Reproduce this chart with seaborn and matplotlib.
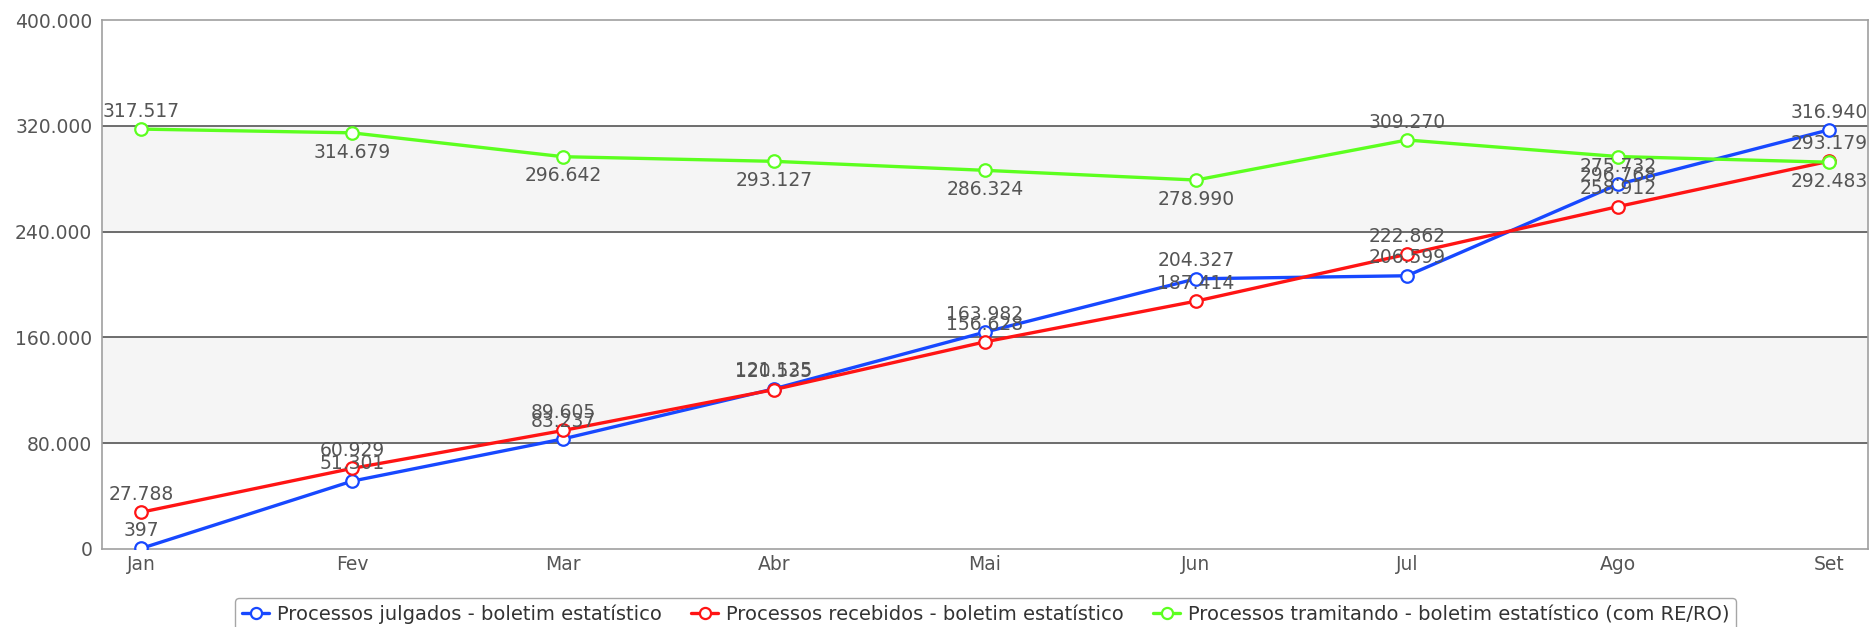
import pandas as pd
import matplotlib.pyplot as plt
import seaborn as sns
from matplotlib.lines import Line2D
from matplotlib.ticker import FuncFormatter


meses = ['Jan', 'Fev', 'Mar', 'Abr', 'Mai', 'Jun', 'Jul', 'Ago', 'Set']
julgados = [397, 51301, 83237, 121125, 163982, 204327, 206599, 275732, 316940]
recebidos = [27788, 60929, 89605, 120535, 156628, 187414, 222862, 258912, 293179]
tramitando = [317517, 314679, 296642, 293127, 286324, 278990, 309270, 296768, 292483]

series = ['Processos julgados - boletim estatístico',
          'Processos recebidos - boletim estatístico',
          'Processos tramitando - boletim estatístico (com RE/RO)']
cores = ['#1748ff', '#ff1414', '#5cff1f']
y_ticks = [0, 80000, 160000, 240000, 320000, 400000]


def fmt_br(v, pos=None):
    return f'{int(v):,}'.replace(',', '.')


df = pd.DataFrame({
    'mes': list(range(len(meses))) * 3,
    'valor': julgados + recebidos + tramitando,
    'serie': [series[0]] * 9 + [series[1]] * 9 + [series[2]] * 9,
})

sns.set_style('white')
plt.rcParams['font.family'] = ['DejaVu Sans']

fig, ax = plt.subplots(figsize=(18.74, 6.27), dpi=100)
fig.subplots_adjust(left=102 / 1874, right=1868 / 1874, top=1 - 20 / 627, bottom=1 - 549 / 627)

# faixas cinzas
ax.axhspan(80000, 160000, color='#f5f5f5', zorder=0)
ax.axhspan(240000, 320000, color='#f5f5f5', zorder=0)
for y in [80000, 160000, 240000, 320000]:
    ax.axhline(y, color='#555555', lw=1.2, zorder=1)

sns.lineplot(
    data=df, x='mes', y='valor', hue='serie', hue_order=series,
    palette=cores, marker='o', markersize=9, markerfacecolor='white',
    markeredgewidth=1.6, linewidth=2.4, legend=False, ax=ax, zorder=3
)
for line, c in zip(ax.get_lines()[-3:], cores):
    line.set_markeredgecolor(c)

# rótulos dos pontos
fs = 13.5
acima_verde = {0, 6}
for i in range(len(meses)):
    ax.annotate(fmt_br(julgados[i]), (i, julgados[i]), xytext=(0, 6), textcoords='offset points',
                ha='center', va='bottom', fontsize=fs, color='#555555', zorder=5)
    ax.annotate(fmt_br(recebidos[i]), (i, recebidos[i]), xytext=(0, 6), textcoords='offset points',
                ha='center', va='bottom', fontsize=fs, color='#555555', zorder=5)
    if i in acima_verde:
        ax.annotate(fmt_br(tramitando[i]), (i, tramitando[i]), xytext=(0, 6), textcoords='offset points',
                    ha='center', va='bottom', fontsize=fs, color='#555555', zorder=5)
    else:
        ax.annotate(fmt_br(tramitando[i]), (i, tramitando[i]), xytext=(0, -7), textcoords='offset points',
                    ha='center', va='top', fontsize=fs, color='#555555', zorder=5)

ax.set_xlim(-0.185, len(meses) - 1 + 0.185)
ax.set_ylim(0, 400000)
ax.set_yticks(y_ticks)
ax.yaxis.set_major_formatter(FuncFormatter(fmt_br))
ax.set_xticks(range(len(meses)))
ax.set_xticklabels(meses)
ax.tick_params(axis='both', labelsize=fs, labelcolor='#555555', length=0)
ax.tick_params(axis='y', pad=7)
ax.tick_params(axis='x', pad=4)
ax.set_xlabel('')
ax.set_ylabel('')
for s in ax.spines.values():
    s.set_color('#a0a0a0')
    s.set_linewidth(1.2)

handles = [Line2D([0], [0], color=c, lw=2.4, marker='o', markersize=8,
                  markerfacecolor='white', markeredgecolor=c, markeredgewidth=1.6)
           for c in cores]
leg = fig.legend(handles, series, loc='upper center', bbox_to_anchor=(0.526, 1 - 588 / 627),
                 ncol=3, fontsize=14, frameon=True, handlelength=1.4, handletextpad=0.4,
                 columnspacing=1.5, borderpad=0.35, fancybox=True)
leg.get_frame().set_edgecolor('#909090')
for t in leg.get_texts():
    t.set_color('#333333')

plt.savefig('out.png', dpi=100)
